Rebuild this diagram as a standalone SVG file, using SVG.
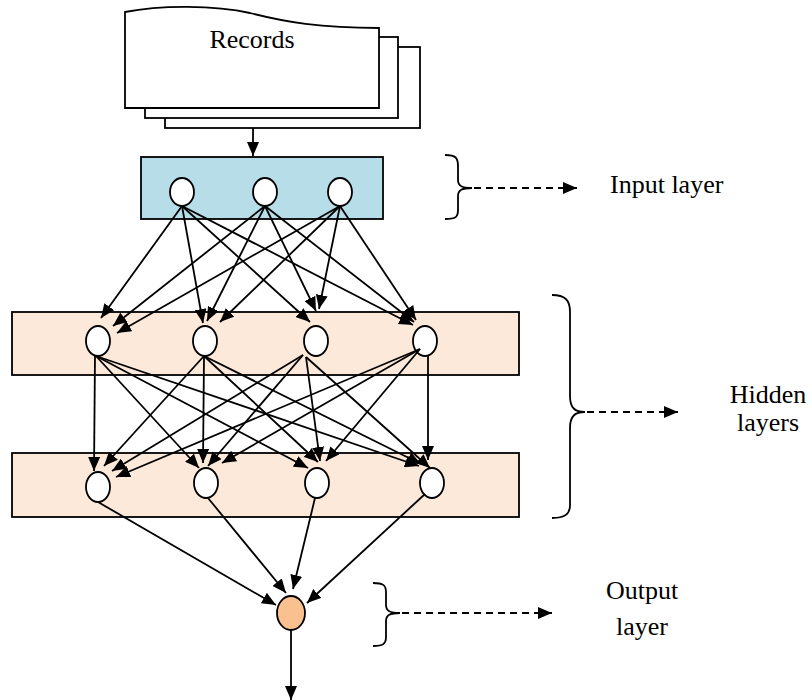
<svg xmlns="http://www.w3.org/2000/svg" width="812" height="700" viewBox="0 0 812 700">
<style>
.sheet{fill:#ffffff;stroke:#000;stroke-width:1.8}
.layer{stroke:#000;stroke-width:1.8}
.node{fill:#ffffff;stroke:#000;stroke-width:1.8}
.conn line{stroke:#000;stroke-width:1.8;marker-end:url(#ah)}
.dash{stroke:#000;stroke-width:2.2;stroke-dasharray:7 5;marker-end:url(#ah)}
.brace{fill:none;stroke:#000;stroke-width:1.8}
.lbl{font-family:"Liberation Serif","Times New Roman",serif;font-size:26px;fill:#000}
</style>
<defs>
<marker id="ah" viewBox="0 0 14 12" refX="14" refY="6" markerWidth="14" markerHeight="12" markerUnits="userSpaceOnUse" orient="auto">
<path d="M0,0 L14,6 L0,12 Z" fill="#000"/>
</marker>
</defs>
<rect width="812" height="700" fill="#ffffff"/>

<g id="records">
<rect class="sheet" x="165" y="47" width="255" height="81"/>
<rect class="sheet" x="145" y="37" width="253" height="81"/>
<path class="sheet" d="M125,108 L125,12 C160,5 215,5 250,13 C285,22 320,28 379,28 L379,108 Z"/>
<text class="lbl" x="252" y="48" text-anchor="middle">Records</text>
</g>

<g id="input-layer">
<rect class="layer" x="141" y="157" width="242" height="62" fill="#b7dde8"/>
<ellipse class="node" cx="182" cy="192" rx="12" ry="14"/>
<ellipse class="node" cx="265" cy="192" rx="12" ry="14"/>
<ellipse class="node" cx="340" cy="192" rx="12" ry="14"/>
</g>

<g id="hidden-layer-1">
<rect class="layer" x="12" y="312" width="507" height="63" fill="#fde9d9"/>
<ellipse class="node" cx="98" cy="341" rx="12" ry="15"/>
<ellipse class="node" cx="205" cy="341" rx="12" ry="15"/>
<ellipse class="node" cx="316" cy="341" rx="12" ry="15"/>
<ellipse class="node" cx="425" cy="341" rx="12" ry="15"/>
</g>

<g id="hidden-layer-2">
<rect class="layer" x="12" y="453" width="507" height="64" fill="#fde9d9"/>
<ellipse class="node" cx="98" cy="487" rx="12" ry="15"/>
<ellipse class="node" cx="206" cy="483" rx="12" ry="15"/>
<ellipse class="node" cx="317" cy="483" rx="12" ry="15"/>
<ellipse class="node" cx="432" cy="483" rx="12" ry="15"/>
</g>

<g id="output-node">
<ellipse cx="291" cy="613" rx="14" ry="17" fill="#fac090" stroke="#000" stroke-width="1.8"/>
</g>

<g id="input-label">
<path class="brace" d="M445,155 C456,155 458,158 458,166 L458,180 C458,186 462,188 472,188 C462,188 458,190 458,196 L458,210 C458,217 456,219 445,219"/>
<line class="dash" x1="474" y1="188" x2="577" y2="188"/>
<text class="lbl" x="610" y="193">Input layer</text>
</g>

<g id="hidden-label">
<path class="brace" d="M552,295 C565,295 570,300 570,312 L570,396 C570,408 575,412 585,412 C575,412 570,416 570,428 L570,505 C570,514 565,518 552,518"/>
<line class="dash" x1="587" y1="412" x2="678" y2="412"/>
<text class="lbl" x="768" y="403" text-anchor="middle">Hidden</text>
<text class="lbl" x="768" y="431" text-anchor="middle">layers</text>
</g>

<g id="output-label">
<path class="brace" d="M373,583 C383,583 386,585 386,592 L386,605 C386,611 390,613 400,613 C390,613 386,615 386,621 L386,637 C386,644 383,646 373,646"/>
<line class="dash" x1="402" y1="613" x2="552" y2="613"/>
<text class="lbl" x="642" y="599" text-anchor="middle">Output</text>
<text class="lbl" x="642" y="635" text-anchor="middle">layer</text>
</g>

<g id="connectors" class="conn">
<line x1="253" y1="128" x2="253" y2="156"/>
<line x1="182" y1="206" x2="101" y2="318"/>
<line x1="182" y1="206" x2="203" y2="323"/>
<line x1="182" y1="206" x2="310" y2="322"/>
<line x1="182" y1="206" x2="413" y2="325"/>
<line x1="265" y1="206" x2="113" y2="326"/>
<line x1="265" y1="206" x2="207" y2="321"/>
<line x1="265" y1="206" x2="316" y2="311"/>
<line x1="265" y1="206" x2="414" y2="322"/>
<line x1="340" y1="206" x2="117" y2="333"/>
<line x1="340" y1="206" x2="220" y2="322"/>
<line x1="340" y1="206" x2="319" y2="309"/>
<line x1="340" y1="206" x2="416" y2="320"/>
<line x1="95" y1="355" x2="94" y2="471"/>
<line x1="96" y1="356" x2="199" y2="468"/>
<line x1="96" y1="356" x2="308" y2="468"/>
<line x1="96" y1="356" x2="419" y2="466"/>
<line x1="204" y1="356" x2="104" y2="466"/>
<line x1="204" y1="356" x2="203" y2="463"/>
<line x1="204" y1="356" x2="318" y2="462"/>
<line x1="204" y1="356" x2="421" y2="464"/>
<line x1="303" y1="355" x2="112" y2="471"/>
<line x1="303" y1="355" x2="208" y2="466"/>
<line x1="306" y1="357" x2="320" y2="461"/>
<line x1="306" y1="357" x2="430" y2="468"/>
<line x1="420" y1="349" x2="116" y2="477"/>
<line x1="420" y1="349" x2="222" y2="463"/>
<line x1="420" y1="349" x2="326" y2="461"/>
<line x1="428" y1="356" x2="428" y2="460"/>
<line x1="98" y1="502" x2="276" y2="605"/>
<line x1="208" y1="498" x2="286" y2="593"/>
<line x1="315" y1="498" x2="293" y2="589"/>
<line x1="425" y1="494" x2="307" y2="603"/>
<line x1="291" y1="630" x2="291" y2="700"/>
</g>
</svg>
